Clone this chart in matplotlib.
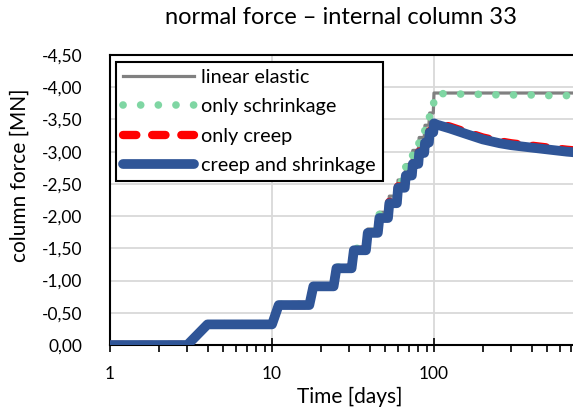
import matplotlib
matplotlib.use('Agg')
import matplotlib.pyplot as plt
from matplotlib.ticker import FuncFormatter, FixedLocator, LogLocator, NullFormatter
from matplotlib.lines import Line2D

plt.rcParams['font.family'] = ['Lato', 'DejaVu Sans']

# days on which a new storey load is applied (load reaches new level one day later)
step_days = [3, 10, 17, 24, 31, 38, 45, 52, 59, 66, 73, 80, 87, 93, 99]

# column force after each load step [MN]
elastic_lvl = [-0.33, -0.63, -0.93, -1.22, -1.51, -1.80, -2.06, -2.31, -2.56, -2.80, -3.02, -3.22, -3.41, -3.60, -3.91]
shrink_lvl = [-0.33, -0.63, -0.92, -1.21, -1.50, -1.78, -2.04, -2.29, -2.54, -2.77, -2.99, -3.19, -3.38, -3.58, -3.89]
creep_lvl = [-0.32, -0.62, -0.91, -1.20, -1.48, -1.75, -1.99, -2.22, -2.46, -2.65, -2.83, -3.00, -3.16, -3.32, -3.46]
both_lvl = [-0.32, -0.62, -0.91, -1.19, -1.47, -1.74, -1.97, -2.20, -2.44, -2.63, -2.81, -2.98, -3.14, -3.30, -3.44]

# after the last storey
t_after = [104, 125, 160, 200, 255, 300, 410, 520, 660, 1000]
elastic_after = [-3.91, -3.91, -3.91, -3.91, -3.91, -3.91, -3.91, -3.91, -3.91, -3.91]
shrink_after = [-3.90, -3.90, -3.89, -3.89, -3.88, -3.88, -3.88, -3.87, -3.87, -3.86]
creep_after = [-3.44, -3.39, -3.30, -3.22, -3.16, -3.13, -3.09, -3.06, -3.03, -2.99]
both_after = [-3.42, -3.36, -3.27, -3.19, -3.13, -3.10, -3.06, -3.03, -3.00, -2.96]

x_labels = ['1', '10', '100']
y_ticks = [0, -0.5, -1, -1.5, -2, -2.5, -3, -3.5, -4, -4.5]


def build(levels, after):
    t, v = [1], [0.0]
    prev = 0.0
    for d, lv in zip(step_days, levels):
        t += [d, d + 1]
        v += [prev, lv]
        prev = lv
    return t + t_after, v + after


def fmt_y(y, pos):
    if y == 0:
        return '0,00'
    return f"{y:.2f}".replace('.', ',')


W, H = 573, 408
fig = plt.figure(figsize=(W / 100, H / 100), dpi=100)
# axis runs to 1000 days, the picture is cut at the right edge
ax = fig.add_axes([110 / W, 63 / H, 486 / W, 290 / H])

grey = '#808080'
green = '#7fd6a3'
red = '#ff0000'
blue = '#2f5597'
dots = (0, (0.01, 2.3))
dashes = (0, (1.6, 1.9))

t, v = build(elastic_lvl, elastic_after)
ax.plot(t, v, color=grey, lw=2.3, zorder=3)
t, v = build(shrink_lvl, shrink_after)
ax.plot(t, v, color=green, lw=5.5, ls=dots, dash_capstyle='round', zorder=4)
t, v = build(creep_lvl, creep_after)
ax.plot(t, v, color=red, lw=6, ls=dashes, dash_capstyle='round', zorder=5)
t, v = build(both_lvl, both_after)
ax.plot(t, v, color=blue, lw=7, solid_capstyle='round', solid_joinstyle='round', zorder=6)

ax.set_xscale('log')
ax.set_xlim(1, 1000)
ax.set_ylim(0, -4.5)
ax.set_yticks(y_ticks)
ax.yaxis.set_major_formatter(FuncFormatter(fmt_y))
ax.xaxis.set_major_locator(FixedLocator([1, 10, 100]))
ax.set_xticklabels(x_labels)
ax.xaxis.set_minor_locator(LogLocator(base=10, subs=range(2, 10)))
ax.xaxis.set_minor_formatter(NullFormatter())

ax.grid(True, which='major', color='#d9d9d9', lw=1.3)
ax.set_axisbelow(True)
ax.tick_params(axis='y', length=0, pad=20, labelsize=12.5)
ax.tick_params(axis='x', which='major', direction='inout', length=10, width=1.2, labelsize=12.5, pad=10)
ax.tick_params(axis='x', which='minor', direction='out', length=5, width=1.2)
for s in ['left', 'bottom', 'top']:
    ax.spines[s].set_linewidth(1.5)
ax.spines['right'].set_visible(False)

handles = [
    Line2D([], [], color=grey, lw=2.3),
    Line2D([], [], color=green, lw=5.5, ls=dots, dash_capstyle='round'),
    Line2D([], [], color=red, lw=6, ls=dashes, dash_capstyle='round'),
    Line2D([], [], color=blue, lw=7, solid_capstyle='round'),
]
labels = ['linear elastic', 'only schrinkage', 'only creep', 'creep and shrinkage']
leg = ax.legend(handles, labels, loc='upper left', bbox_to_anchor=(6 / 486, 1 - 7 / 290),
                borderaxespad=0, fontsize=14.3, handlelength=3.6, handletextpad=0.35,
                labelspacing=0.62, fancybox=False, framealpha=1, borderpad=0.35)
leg.get_frame().set_edgecolor('black')
leg.get_frame().set_linewidth(1.5)

fig.text(341 / W, 1 - 17 / H, 'normal force \u2013 internal column 33', ha='center', va='center', fontsize=17)
fig.text(350 / W, 1 - 397 / H, 'Time [days]', ha='center', va='center', fontsize=15)
fig.text(20 / W, 1 - 175 / H, 'column force [MN]', ha='center', va='center', rotation=90, fontsize=15)

fig.savefig('out.png', dpi=100)
